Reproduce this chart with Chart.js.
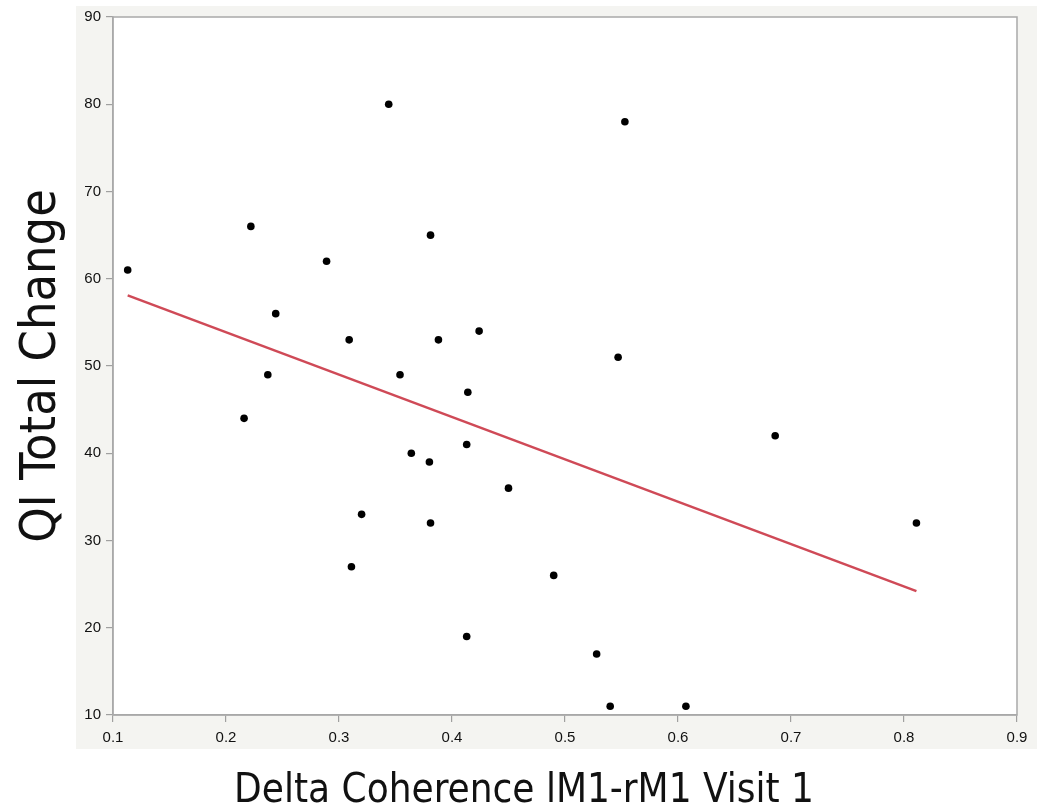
<!DOCTYPE html>
<html>
<head>
<meta charset="utf-8">
<script src="https://cdn.jsdelivr.net/npm/chart.js@4"></script>
<style>
html,body{margin:0;padding:0;background:#ffffff;}
#wrap{width:1048px;height:812px;}
</style>
</head>
<body>
<div id="wrap"><canvas id="c" width="1048" height="812"></canvas></div>
<script>
// Delta Coherence lM1-rM1 Visit 1 (x) and QI Total Change (y)
const xValues = [0.113, 0.222, 0.344, 0.553, 0.381, 0.289, 0.244, 0.309, 0.388, 0.424,
                 0.237, 0.354, 0.216, 0.364, 0.380, 0.320, 0.381, 0.311, 0.547, 0.414,
                 0.413, 0.450, 0.490, 0.413, 0.528, 0.540, 0.607, 0.686, 0.811];
const yValues = [61, 66, 80, 78, 65, 62, 56, 53, 53, 54,
                 49, 49, 44, 40, 39, 33, 32, 27, 51, 47,
                 41, 36, 26, 19, 17, 11, 11, 42, 32];
// fitted line endpoints
const fitX = [0.113, 0.811];
const fitY = [58.1, 24.2];
// axis ticks
const xTicks = [0.1, 0.2, 0.3, 0.4, 0.5, 0.6, 0.7, 0.8, 0.9];
const yTicks = [10, 20, 30, 40, 50, 60, 70, 80, 90];
const xTitle = 'Delta Coherence lM1-rM1 Visit 1';
const yTitle = 'QI Total Change';

const points = xValues.map((x, i) => ({x: x, y: yValues[i]}));
const fitLine = fitX.map((x, i) => ({x: x, y: fitY[i]}));

const panelPlugin = {
  id: 'panel',
  beforeDraw(chart) {
    const {ctx, chartArea: a} = chart;
    ctx.save();
    ctx.fillStyle = '#ffffff';
    ctx.fillRect(0, 0, chart.width, chart.height);
    ctx.fillStyle = '#f4f4f1';
    ctx.fillRect(a.left - 37, a.top - 11, (a.right + 20) - (a.left - 37), (a.bottom + 34) - (a.top - 11));
    ctx.fillStyle = '#ffffff';
    ctx.fillRect(a.left, a.top, a.right - a.left, a.bottom - a.top);
    ctx.restore();
  },
  beforeDatasetsDraw(chart) {
    const {ctx, chartArea: a} = chart;
    ctx.save();
    ctx.strokeStyle = '#a9a9a9';
    ctx.lineWidth = 1.5;
    ctx.strokeRect(a.left, a.top, a.right - a.left, a.bottom - a.top);
    ctx.restore();
  }
};

const tickFont = {family: "'Liberation Sans', Arial, Helvetica, sans-serif", size: 15};
const titleFamily = "'Liberation Sans Narrow', 'Arial Narrow', 'DejaVu Sans Condensed', sans-serif";

new Chart(document.getElementById('c'), {
  type: 'scatter',
  data: {
    datasets: [
      {
        type: 'line',
        data: fitLine,
        borderColor: '#cf4a57',
        borderWidth: 2.5,
        pointRadius: 0,
        fill: false,
        tension: 0,
        order: 2
      },
      {
        data: points,
        backgroundColor: '#000000',
        borderWidth: 0,
        pointRadius: 3.8,
        pointHoverRadius: 3.8,
        order: 1
      }
    ]
  },
  plugins: [panelPlugin],
  options: {
    responsive: false,
    animation: false,
    events: [],
    layout: {padding: {top: 17, right: 0, left: 0, bottom: 0}},
    plugins: {
      legend: {display: false},
      tooltip: {enabled: false},
      title: {
        display: true,
        position: 'bottom',
        text: xTitle,
        color: '#111111',
        font: {family: titleFamily, size: 40, weight: 'normal', lineHeight: 1.0},
        padding: {top: 10, bottom: 0}
      }
    },
    scales: {
      x: {
        type: 'linear',
        min: xTicks[0],
        max: xTicks[xTicks.length - 1],
        afterBuildTicks(scale) { scale.ticks = xTicks.map(v => ({value: v})); },
        afterFit(scale) { scale.height = 47; },
        ticks: {
          color: '#111111',
          font: tickFont,
          padding: 7,
          maxRotation: 0,
          callback: v => Number(v).toFixed(1)
        },
        grid: {drawOnChartArea: false, drawTicks: true, tickLength: 7, color: '#a0a0a0', lineWidth: 1.2},
        border: {display: true, color: '#a9a9a9', width: 1.5}
      },
      y: {
        type: 'linear',
        min: yTicks[0],
        max: yTicks[yTicks.length - 1],
        afterBuildTicks(scale) { scale.ticks = yTicks.map(v => ({value: v})); },
        afterFit(scale) { scale.width = 113; },
        ticks: {
          color: '#111111',
          font: tickFont,
          padding: 5,
          callback: v => String(v)
        },
        grid: {drawOnChartArea: false, drawTicks: true, tickLength: 7, color: '#a0a0a0', lineWidth: 1.2},
        border: {display: true, color: '#a9a9a9', width: 1.5},
        title: {display: true, text: yTitle, color: '#111111', font: {family: titleFamily, size: 50}, padding: {top: 12, bottom: 0}}
      },
      yRight: {
        type: 'linear',
        position: 'right',
        min: yTicks[0],
        max: yTicks[yTicks.length - 1],
        afterFit(scale) { scale.width = 31; },
        ticks: {display: false},
        grid: {display: false, drawTicks: false},
        border: {display: false}
      }
    }
  }
});
</script>
</body>
</html>
